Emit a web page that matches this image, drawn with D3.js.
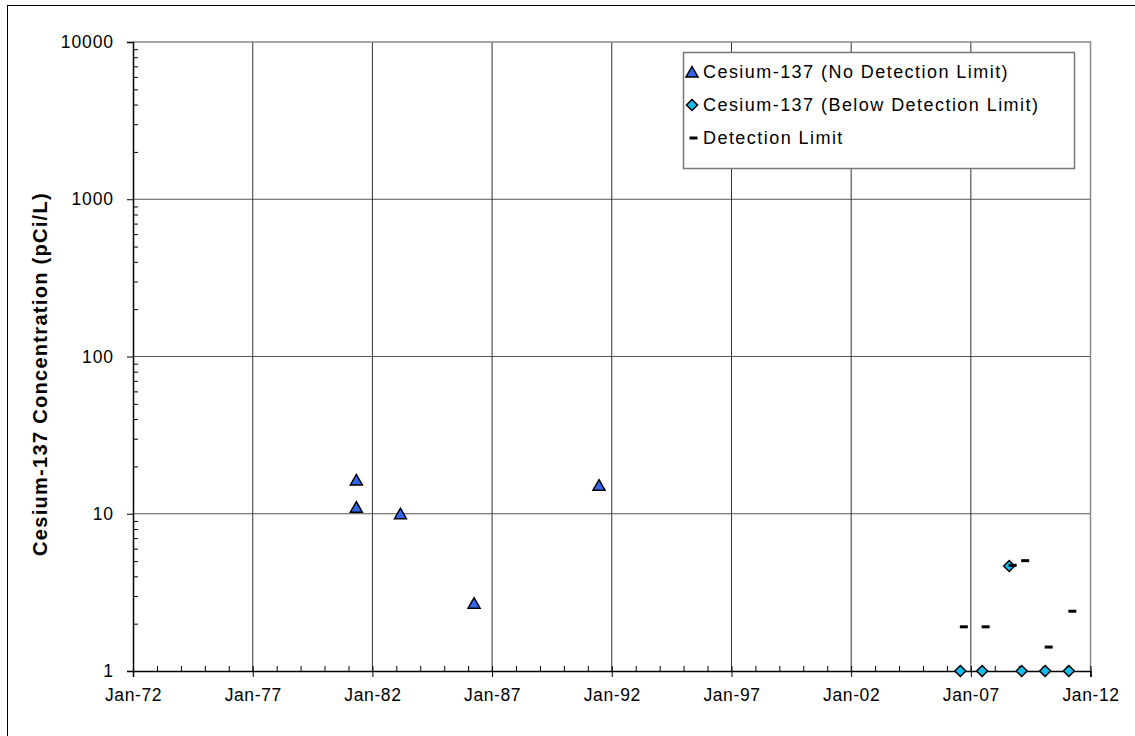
<!DOCTYPE html>
<html>
<head>
<meta charset="utf-8">
<script src="https://cdn.jsdelivr.net/npm/d3@7"></script>
<style>
  body { margin: 0; background: #fff; }
  svg { display: block; }
  text { font-family: Arial, "Liberation Sans", sans-serif; fill: #000; }
</style>
</head>
<body>
<svg id="chart" width="1135" height="736"></svg>
<script>
// Cesium-137 concentrations over time (pCi/L)
const xTickLabels = ["Jan-72", "Jan-77", "Jan-82", "Jan-87", "Jan-92", "Jan-97", "Jan-02", "Jan-07", "Jan-12"];
const yTickValues = [1, 10, 100, 1000, 10000];

// Results reported without a detection limit
const detectedDates = ["1981-05-01", "1981-05-01", "1983-03-05", "1986-04-01", "1991-06-20"];
const detectedValues = [16.4, 11.0, 10.0, 2.7, 15.2];

// Results below the detection limit, with their detection limits
const belowDates = ["2006-07-25", "2007-06-22", "2008-08-08", "2009-02-15", "2010-02-08", "2011-02-05"];
const belowValues = [1, 1, 4.65, 1, 1, 1];
const limitValues = [1.91, 1.91, 4.7, 5.03, 1.42, 2.4];

const legendLabels = ["Cesium-137 (No Detection Limit)", "Cesium-137 (Below Detection Limit)", "Detection Limit"];

const parse = d3.timeParse("%Y-%m-%d");
const svg = d3.select("#chart");

const plot = { left: 133, right: 1090.5, top: 42, bottom: 671 };

const x = d3.scaleTime()
  .domain([new Date(1972, 0, 1), new Date(2012, 0, 1)])
  .range([plot.left, plot.right]);
const y = d3.scaleLog()
  .domain([1, 10000])
  .range([plot.bottom, plot.top]);

const majorDates = d3.range(1972, 2013, 5).map(yr => new Date(yr, 0, 1));
const minorDates = d3.range(1972, 2013, 1).map(yr => new Date(yr, 0, 1));
const minorValues = [];
for (let e = 0; e < 4; e++) for (let m = 2; m <= 9; m++) minorValues.push(m * Math.pow(10, e));

// outer chart frame
svg.append("rect")
  .attr("x", 7.5).attr("y", 5.5)
  .attr("width", 1200).attr("height", 800)
  .attr("fill", "none").attr("stroke", "#000").attr("stroke-width", 1);

// gridlines
const grid = svg.append("g");
grid.selectAll("line.h").data(yTickValues.slice(1, -1)).join("line")
  .attr("x1", plot.left).attr("x2", plot.right)
  .attr("y1", d => y(d)).attr("y2", d => y(d))
  .attr("stroke", "#555").attr("stroke-width", 1);
grid.selectAll("line.v").data(majorDates.slice(1, -1)).join("line")
  .attr("x1", d => x(d)).attr("x2", d => x(d))
  .attr("y1", plot.top).attr("y2", plot.bottom)
  .attr("stroke", "#333").attr("stroke-width", 1);

// plot area border (top and right)
svg.append("path")
  .attr("d", `M${plot.left},${plot.top}H${plot.right}V${plot.bottom}`)
  .attr("fill", "none").attr("stroke", "#888").attr("stroke-width", 1.5);

// x axis: major ticks outside with labels, yearly minor ticks inside
const xAxis = svg.append("g").attr("transform", `translate(0,${plot.bottom})`)
  .call(d3.axisBottom(x).tickValues(majorDates).tickSize(6)
    .tickFormat((d, i) => xTickLabels[i]));
xAxis.select(".domain").attr("stroke", "#000").attr("stroke-width", 1.5);
xAxis.selectAll(".tick line").attr("stroke", "#000");
xAxis.selectAll(".tick text")
  .attr("y", 18).attr("dy", "0.71em")
  .style("font-size", "17.5px").style("letter-spacing", "0.6px")
  .style("font-family", "Arial, 'Liberation Sans', sans-serif");
svg.append("g").attr("transform", `translate(0,${plot.bottom})`)
  .call(d3.axisTop(x).tickValues(minorDates).tickSize(5).tickFormat(""))
  .call(g => g.select(".domain").remove())
  .selectAll(".tick line").attr("stroke", "#000");

// y axis: decade ticks outside with labels, minor ticks inside
const yAxis = svg.append("g").attr("transform", `translate(${plot.left},0)`)
  .call(d3.axisLeft(y).tickValues(yTickValues).tickSize(6)
    .tickFormat(d3.format("d")));
yAxis.select(".domain").attr("stroke", "#000").attr("stroke-width", 1.5);
yAxis.selectAll(".tick line").attr("stroke", "#000");
yAxis.selectAll(".tick text")
  .attr("x", -19)
  .style("font-size", "17.5px").style("letter-spacing", "0.9px")
  .style("font-family", "Arial, 'Liberation Sans', sans-serif");
svg.append("g").attr("transform", `translate(${plot.left},0)`)
  .call(d3.axisRight(y).tickValues(minorValues).tickSize(5).tickFormat(""))
  .call(g => g.select(".domain").remove())
  .selectAll(".tick line").attr("stroke", "#000");

// y axis title
svg.append("text")
  .attr("transform", `translate(47,374) rotate(-90)`)
  .attr("text-anchor", "middle")
  .style("font-size", "20px").style("font-weight", "bold").style("letter-spacing", "1.3px")
  .text("Cesium-137 Concentration (pCi/L)");

// marker shapes
const triPath = "M0,-5.5L6,5L-6,5Z";
const diaPath = "M0,-5.5L5.5,0L0,5.5L-5.5,0Z";
const dashPath = "M-0.5,-1.5H7.5V1.5H-0.5Z";

const detected = detectedDates.map((d, i) => ({ date: parse(d), value: detectedValues[i] }));
const below = belowDates.map((d, i) => ({ date: parse(d), value: belowValues[i], limit: limitValues[i] }));

const marks = svg.append("g");
marks.selectAll("path.bdl").data(below).join("path")
  .attr("class", "bdl")
  .attr("transform", d => `translate(${x(d.date)},${y(d.value)})`)
  .attr("d", diaPath).attr("fill", "#14bdf0").attr("stroke", "#000").attr("stroke-width", 1.5);
marks.selectAll("path.dl").data(below).join("path")
  .attr("class", "dl")
  .attr("transform", d => `translate(${x(d.date)},${y(d.limit)})`)
  .attr("d", dashPath).attr("fill", "#000");
marks.selectAll("path.det").data(detected).join("path")
  .attr("class", "det")
  .attr("transform", d => `translate(${x(d.date)},${y(d.value)})`)
  .attr("d", triPath).attr("fill", "#3366ee").attr("stroke", "#000").attr("stroke-width", 1.5);

// legend
const legend = svg.append("g");
legend.append("rect")
  .attr("x", 683.5).attr("y", 52.5).attr("width", 391).attr("height", 116)
  .attr("fill", "#fff").attr("stroke", "#777").attr("stroke-width", 1.5);
const legendShapes = [
  { d: triPath, fill: "#3366ee", stroke: "#000" },
  { d: diaPath, fill: "#14bdf0", stroke: "#000" },
  { d: dashPath, fill: "#000", stroke: "none" }
];
const rowY = [72, 105, 138];
legendLabels.forEach((label, i) => {
  const s = legendShapes[i];
  legend.append("path")
    .attr("transform", `translate(${i === 2 ? 690 : 692},${rowY[i]})`)
    .attr("d", s.d).attr("fill", s.fill).attr("stroke", s.stroke).attr("stroke-width", 1.5);
  legend.append("text")
    .attr("x", 703).attr("y", rowY[i]).attr("dy", "0.35em")
    .style("font-size", "18px").style("letter-spacing", "1.45px")
    .text(label);
});
</script>
</body>
</html>
